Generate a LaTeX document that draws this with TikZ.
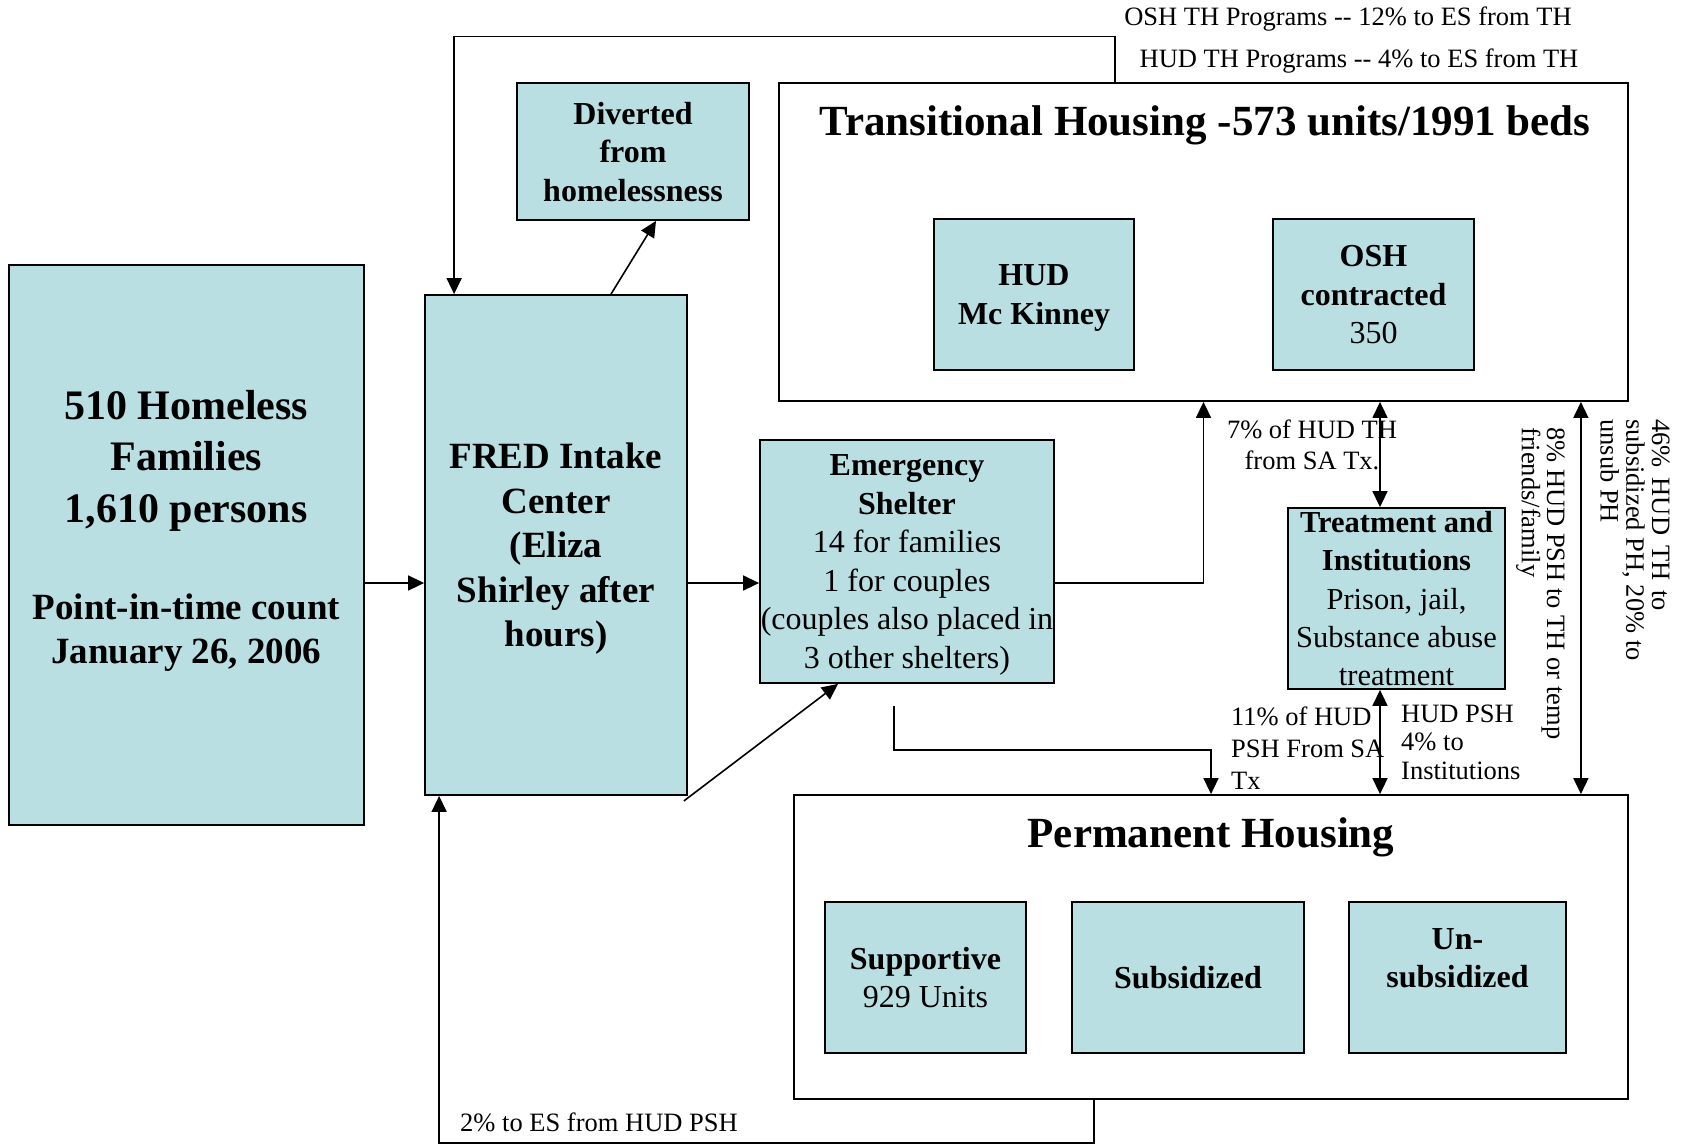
\documentclass[tikz,border=0pt]{standalone}
\usepackage{fontspec}
\setmainfont{Liberation Serif}
\usetikzlibrary{arrows.meta,positioning,calc}
\definecolor{famTeal}{HTML}{BADFE3}
\newcommand\fsHuge{\fontsize{42}{51.5}\selectfont\bfseries}
\newcommand\fsBig{\fontsize{37}{44}\selectfont\bfseries}
\newcommand\fsFred{\fontsize{37}{44.5}\selectfont\bfseries}
\newcommand\fsBox{\fontsize{32}{38.5}\selectfont}
\newcommand\fsBoxB{\fontsize{32}{38.5}\selectfont\bfseries}
\newcommand\fsTreat{\fontsize{30.5}{38.4}\selectfont}
\newcommand\fsTitle{\fontsize{43}{51}\selectfont\bfseries}
\newcommand\fsNote{\fontsize{26.5}{31}\selectfont}

\begin{document}
\begin{tikzpicture}[x=1pt,y=-1pt,
    cell/.style={draw,line width=1.8pt,fill=famTeal,inner sep=0pt,align=center,text depth=0pt,font=\fsBox},
    region/.style={draw,line width=1.8pt,inner sep=0pt},
    flow/.style={line width=1.6pt,-{Triangle[length=16pt,width=15pt]}},
    twoway/.style={line width=1.6pt,{Triangle[length=16pt,width=15pt]}-{Triangle[length=16pt,width=15pt]}},
    note/.style={inner sep=0pt,font=\fsNote}]
  \useasboundingbox (0,0) rectangle (1683,1144);

  % housing regions
  \node[region,minimum width=849,minimum height=318] (th) at (1203.5,242) {};
  \node[font=\fsTitle,inner sep=0pt] (thtitle) at (1205,125) {Transitional Housing -573 units/1991 beds};
  \node[region,minimum width=834,minimum height=304] (ph) at (1211,947) {};
  \node[font=\fsTitle,inner sep=0pt] (phtitle) at (1211,837) {Permanent Housing};

  % program boxes
  \node[cell,minimum width=355,minimum height=560,font=\fsHuge] (home) at (186.3,545)
    {510 Homeless\\Families\\1,610 persons\\[45.5pt]{\fsBig Point-in-time count}\\[-7.5pt]{\fsBig January 26, 2006}\\[-15pt] ~};
  \node[cell,minimum width=262,minimum height=500,font=\fsFred] (fred) at (556,545)
    {FRED Intake\\Center\\(Eliza\\Shirley after\\hours)};
  \node[cell,minimum width=232,minimum height=137,font=\fsBoxB] (divert) at (633,151.5)
    {Diverted\\from\\homelessness};
  \node[cell,minimum width=294,minimum height=243] (shelter) at (907,561.5)
    {\textbf{Emergency}\\\textbf{Shelter}\\14 for families\\1 for couples\\(couples also placed in\\3 other shelters)};
  \node[cell,minimum width=200,minimum height=151,font=\fsBoxB] (hud) at (1034,294.5) {HUD\\Mc Kinney};
  \node[cell,minimum width=201,minimum height=151] (osh) at (1373.5,294.5) {\textbf{OSH}\\\textbf{contracted}\\350};
  \node[cell,minimum width=217,minimum height=181,inner ysep=-6pt,font=\fsTreat] (treat) at (1396.5,598.5)
    {\textbf{Treatment and}\\\textbf{Institutions}\\Prison, jail,\\Substance abuse\\treatment};
  \node[cell,minimum width=201,minimum height=151] (supp) at (925.5,977.5) {\textbf{Supportive}\\929 Units};
  \node[cell,minimum width=232,minimum height=151,font=\fsBoxB] (subs) at (1188,977.5) {Subsidized};
  \node[cell,minimum width=217,minimum height=151,font=\fsBoxB] (unsub) at (1457.5,977.5) {Un-\\subsidized\\ ~};

  % flows
  \coordinate (flow) at (0,583);
  \draw[flow] (home.east |- flow) -- (fred.west |- flow);
  \draw[flow] (fred.east |- flow) -- (shelter.west |- flow);
  \draw[flow] ([shift={(55,0)}]fred.north) -- ([shift={(23,0)}]divert.south);
  \draw[flow] (shelter.east |- flow) -| (th.south);
  \draw[flow] ([shift={(-4,5)}]fred.south east) -- ([shift={(-69,0)}]shelter.south);
  \draw[flow] ([shift={(-13,22)}]shelter.south) -- ++(0,44) -| (ph.north);
  \draw[flow] ([shift={(337,0)}]th.north west) -- ++(0,-45.5) -| ([shift={(30,0)}]fred.north west);
  \draw[flow] ([shift={(301,0)}]ph.south west) -- ++(0,43) -| ([shift={(15,0)}]fred.south west);
  \coordinate (tlink) at ([shift={(-16.5,0)}]treat.north);
  \coordinate (blink) at ([shift={(-16.5,0)}]treat.south);
  \coordinate (rlink) at ([shift={(-48,0)}]th.south east);
  \draw[twoway] (tlink) -- (tlink |- th.south);
  \draw[twoway] (blink) -- (blink |- ph.north);
  \draw[twoway] (rlink) -- (rlink |- ph.north);

  % percentages
  \node[note] (oshnote) at (1348,19) {OSH TH Programs -{}- 12\% to ES from TH};
  \node[note] (hudnote) at (1359,61) {HUD TH Programs -{}- 4\% to ES from TH};
  \node[note,align=center] (sanote) at (1312,445) {7\% of HUD TH\\from SA Tx.};
  \node[note,align=left,anchor=west,font={\fontsize{26.5}{32}\selectfont}] (psh11) at (1231,748) {11\% of HUD\\PSH From SA\\Tx};
  \node[note,align=left,anchor=west,font={\fontsize{26.5}{28.5}\selectfont}] (psh4) at (1401,742) {HUD PSH\\4\% to\\Institutions};
  \node[note,align=left,anchor=north west,rotate=-90,font={\fontsize{26.5}{23.6}\selectfont}] (tempnote) at (1565,427)
    {8\% HUD PSH to TH or temp\\friends/family};
  \node[note,align=left,anchor=north west,rotate=-90,font={\fontsize{26.5}{25.8}\selectfont}] (subnote) at (1670,419)
    {46\%\hspace{10pt}HUD\hspace{10pt}TH\hspace{10pt}to\\subsidized PH, 20\% to\\unsub PH};
  \node[note] (esnote) at (599,1122) {2\% to ES from HUD PSH};
\end{tikzpicture}
\end{document}
